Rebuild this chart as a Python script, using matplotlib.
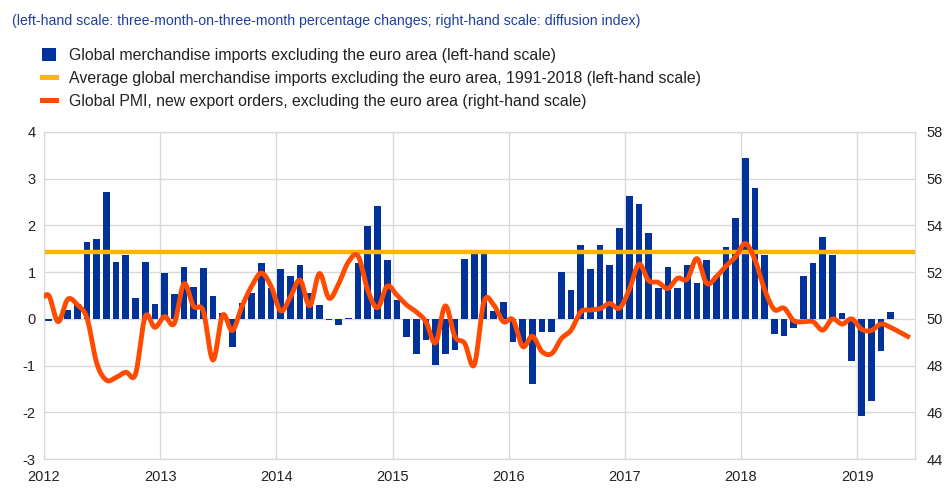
import numpy as np
import pandas as pd
import matplotlib
matplotlib.use("Agg")
import matplotlib.pyplot as plt
from matplotlib.patches import Patch
from matplotlib.lines import Line2D

plt.rcParams['font.family'] = ['Liberation Sans', 'DejaVu Sans']
plt.rcParams['axes.unicode_minus'] = False

# data
import_months = pd.date_range('2012-01-01', periods=88, freq='MS')
imports = [
    -0.05, 0.05, 0.2, 0.32, 1.64, 1.7, 2.71, 1.22, 1.36, 0.44, 1.22, 0.32,
    0.99, 0.54, 1.12, 0.69, 1.09, 0.48, 0.12, -0.6, 0.33, 0.55, 1.19, 0.65,
    1.07, 0.92, 1.15, 0.55, 0.3, -0.03, -0.13, 0.01, 1.2, 1.98, 2.41, 1.26,
    0.4, -0.39, -0.74, -0.45, -0.98, -0.74, -0.66, 1.29, 1.38, 1.38, 0.16, 0.36,
    -0.5, -0.55, -1.39, -0.27, -0.29, 1.0, 0.62, 1.57, 1.06, 1.57, 1.16, 1.95,
    2.62, 2.45, 1.83, 0.65, 1.11, 0.65, 1.16, 0.77, 1.26, 0.91, 1.53, 2.15,
    3.43, 2.79, 1.37, -0.33, -0.36, -0.2, 0.91, 1.19, 1.74, 1.37, 0.13, -0.91,
    -2.07, -1.75, -0.68, 0.14,
]
avg_imports = 1.42

pmi_months = pd.date_range('2011-12-01', periods=91, freq='MS')
pmi = [
    50.6,
    51.02, 49.88, 50.84, 50.6, 50.02, 48.1, 47.38, 47.5, 47.72, 47.64, 50.1, 49.64,
    50.1, 49.8, 51.5, 50.54, 50.34, 48.24, 50.16, 49.5, 50.54, 51.4, 51.96, 51.4,
    50.34, 50.94, 51.66, 50.56, 51.94, 50.88, 51.52, 52.44, 52.68, 51.22, 50.48, 51.4,
    51.02, 50.6, 50.3, 49.88, 48.98, 50.56, 49.24, 48.96, 48.04, 50.74, 50.6, 49.88,
    49.96, 48.82, 49.26, 48.6, 48.52, 49.16, 49.52, 50.3, 50.38, 50.44, 50.66, 50.46,
    51.24, 52.34, 51.64, 51.56, 51.3, 51.74, 51.7, 52.58, 51.52, 51.8, 52.26, 52.66,
    53.22, 52.52, 51.24, 50.4, 50.46, 49.92, 49.88, 49.88, 49.52, 50.0, 49.78, 50.0,
    49.56, 49.5, 49.78, 49.64, 49.42, 49.2,
]

years = list(range(2012, 2020))

BLUE = '#003299'
YELLOW = '#ffb400'
ORANGE = '#ff4b00'
GRID = '#d9d9d9'


def month_pos(dates):
    # months since Jan 2012, placed at the middle of each month
    return np.array([(d.year - 2012) * 12 + d.month - 1 for d in dates]) + 0.45


def catmull_rom(x, y, n=12):
    # smoothed line like the one in the original spreadsheet chart
    x = np.asarray(x, float)
    y = np.asarray(y, float)
    px = np.concatenate([[2 * x[0] - x[1]], x, [2 * x[-1] - x[-2]]])
    py = np.concatenate([[2 * y[0] - y[1]], y, [2 * y[-1] - y[-2]]])
    t = np.linspace(0, 1, n, endpoint=False)
    xs, ys = [], []
    for i in range(1, len(px) - 2):
        for p, out in ((px, xs), (py, ys)):
            p0, p1, p2, p3 = p[i - 1], p[i], p[i + 1], p[i + 2]
            out.append(0.5 * (2 * p1 + (-p0 + p2) * t
                              + (2 * p0 - 5 * p1 + 4 * p2 - p3) * t ** 2
                              + (-p0 + 3 * p1 - 3 * p2 + p3) * t ** 3))
    xs.append([x[-1]])
    ys.append([y[-1]])
    return np.concatenate(xs), np.concatenate(ys)


fig = plt.figure(figsize=(9.49, 4.97), dpi=100)
ax = fig.add_axes([0.0464, 0.0759, 0.918, 0.659])

xb = month_pos(import_months)
ax.bar(xb, imports, width=0.69, color=BLUE, zorder=2)
ax.axhline(avg_imports, color=YELLOW, lw=3.2, zorder=3)

ax.set_xlim(0, 90)
ax.set_ylim(-3, 4)
ax.set_yticks(range(-3, 5))
ax.set_xticks([(y - 2012) * 12 for y in years])
ax.set_xticklabels([str(y) for y in years])
ax.grid(True, color=GRID, lw=1, zorder=0)
ax.tick_params(length=0, labelsize=10.5, colors='#222222', pad=6)
ax.tick_params(axis='x', pad=8)
for s in ax.spines.values():
    s.set_color(GRID)

ax2 = ax.twinx()
sx, sy = catmull_rom(month_pos(pmi_months), pmi)
ax2.plot(sx, sy, color=ORANGE, lw=3.5, solid_capstyle='butt', zorder=4)
ax2.set_ylim(44, 58)
ax2.set_yticks(range(44, 59, 2))
ax2.tick_params(length=0, labelsize=10.5, colors='#222222', pad=8)
for s in ax2.spines.values():
    s.set_color(GRID)

fig.text(0.0126, 0.958, '(left-hand scale: three-month-on-three-month percentage changes; right-hand scale: diffusion index)',
         color='#1f3fa0', fontsize=10.2, va='center')

handles = [
    Patch(facecolor=BLUE, edgecolor='none'),
    Line2D([], [], color=YELLOW, lw=3.6),
    Line2D([], [], color=ORANGE, lw=3.6),
]
labels = [
    'Global merchandise imports excluding the euro area (left-hand scale)',
    'Average global merchandise imports excluding the euro area, 1991-2018 (left-hand scale)',
    'Global PMI, new export orders, excluding the euro area (right-hand scale)',
]
fig.legend(handles, labels, loc='upper left', bbox_to_anchor=(0.044, 0.904), frameon=False,
           fontsize=11.4, handlelength=0.9, handleheight=0.9, handletextpad=0.8,
           labelspacing=0.5, borderpad=0, borderaxespad=0, labelcolor='#222222')

fig.savefig('out.png', dpi=100)
